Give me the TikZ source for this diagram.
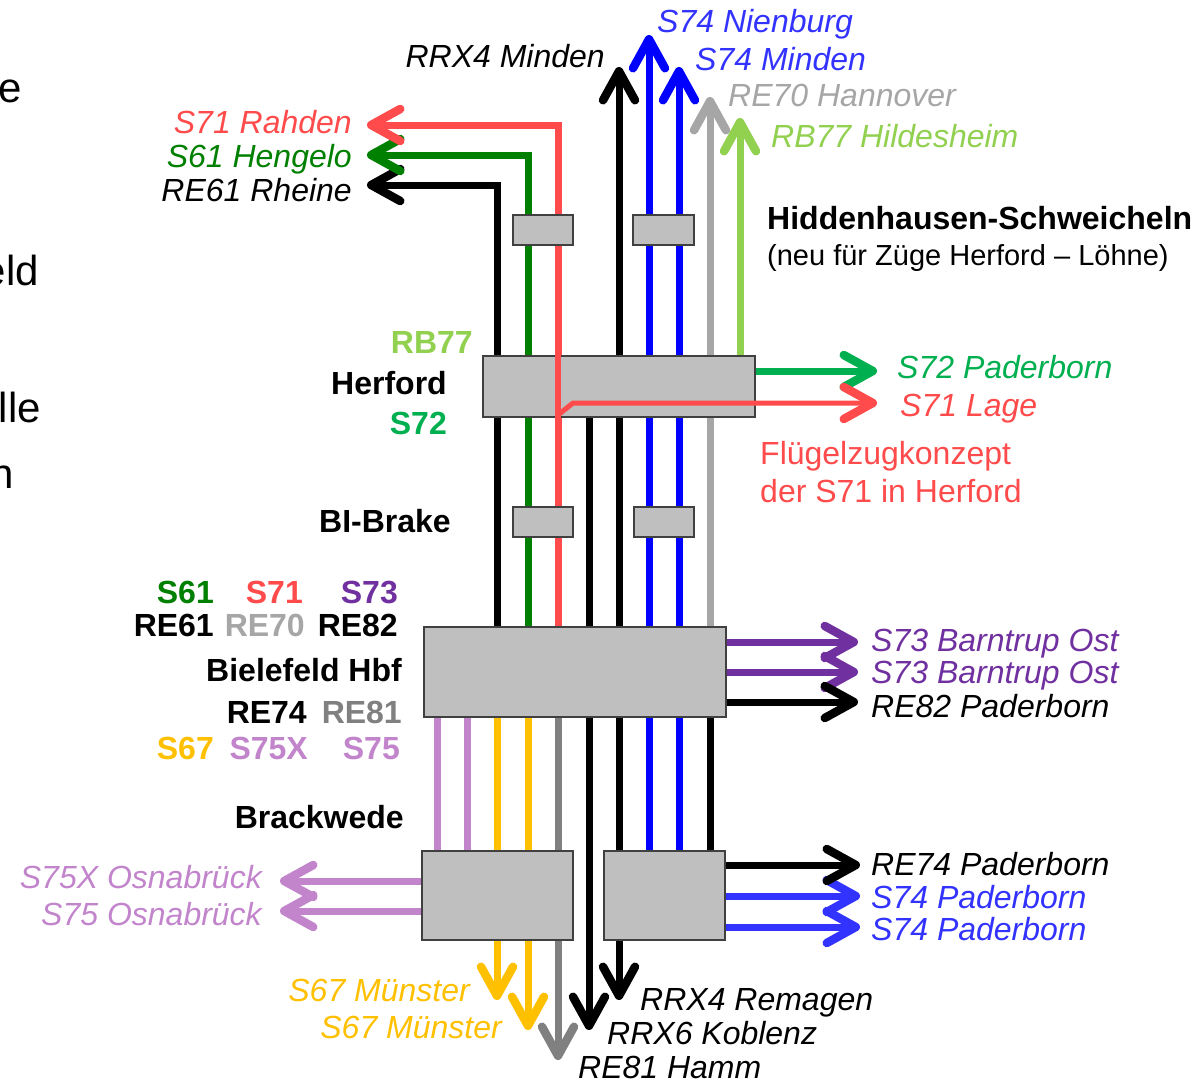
\documentclass[tikz,border=0pt]{standalone}
\usepackage{fontspec}
\setmainfont{Liberation Sans}
\usetikzlibrary{arrows.meta}
\definecolor{cRed}{HTML}{FF4B4B}
\definecolor{cDGreen}{HTML}{008000}
\definecolor{cGreen}{HTML}{00B050}
\definecolor{cBlue}{HTML}{0000FF}
\definecolor{cLBlue}{HTML}{3333FF}
\definecolor{cGrey}{HTML}{A6A6A6}
\definecolor{cDGrey}{HTML}{808080}
\definecolor{cLime}{HTML}{92D050}
\definecolor{cPurple}{HTML}{7030A0}
\definecolor{cLilac}{HTML}{C285CC}
\definecolor{cYellow}{HTML}{FFC000}
\definecolor{cBoxFill}{HTML}{BFBFBF}
\definecolor{cBoxEdge}{HTML}{404040}
\begin{document}
\begin{tikzpicture}[x=1pt,y=-1pt,
  ln/.style={line width=7pt, line join=miter},
  arr/.style={-{Straight Barb[length=29pt,width=32pt,line width=8.5pt,round]}},
  darr/.style={{Straight Barb[length=29pt,width=32pt,line width=8.5pt,round]}-{Straight Barb[length=29pt,width=32pt,line width=8.5pt,round]}},
  rarr/.style={{Straight Barb[length=29pt,width=32pt,line width=8.5pt,round]}-},
  box/.style={draw=cBoxEdge, fill=cBoxFill, line width=1.2pt, inner sep=0pt},
  it/.style={font=\fontsize{32}{38}\selectfont\itshape, inner sep=0pt},
  bf/.style={font=\fontsize{32}{38}\selectfont\bfseries, inner sep=0pt},
  rg/.style={font=\fontsize{32}{38}\selectfont, inner sep=0pt},
  frag/.style={font=\fontsize{42}{48}\selectfont, inner sep=0pt, anchor=base east}
]
\clip (0,0) rectangle (1199,1082);
\fill[white] (0,0) rectangle (1199,1082);

% ---- left fragments of cut-off slide text
\node[frag] (f1) at (22,102) {e};
\node[frag] (f2) at (39,285) {eld};
\node[frag] (f3) at (41,422) {lle};
\node[frag] (f4) at (14,488) {n};

% ---- coordinates
\coordinate (tRahden) at (367,125);
\coordinate (tHengelo) at (367,155);
\coordinate (tRheine) at (367,185);
\coordinate (tMindenR) at (619,67);
\coordinate (tNienburg) at (649,35);
\coordinate (tMindenS) at (679,67);
\coordinate (tHannover) at (710,97);
\coordinate (tHildesheim) at (740,118);
\coordinate (tS72) at (877,371);
\coordinate (tLage) at (877,403);
\coordinate (tS73a) at (858,642);
\coordinate (tS73b) at (858,672);
\coordinate (tRE82) at (858,702);
\coordinate (tRE74) at (860,865);
\coordinate (tS74a) at (860,896);
\coordinate (tS74b) at (860,927);
\coordinate (tS75X) at (280,881);
\coordinate (tS75) at (280,911);
\coordinate (tS67a) at (497,1000);
\coordinate (tS67b) at (528,1030);
\coordinate (tHamm) at (558,1060);
\coordinate (tKoblenz) at (589,1030);
\coordinate (tRemagen) at (619,1000);
\coordinate (redX) at (558,0);

% ---- lines (drawn below the boxes)
\draw[ln,arr,black] (497,640) -- (497,185) -- (tRheine);
\draw[ln,arr,cDGreen] (528,640) -- (528,155) -- (tHengelo);
\draw[ln,arr,cRed] (558,640) -- (558,125) -- (tRahden);
\draw[ln,darr,black] (tMindenR) -- (tRemagen);
\draw[ln,arr,black] (589,400) -- (tKoblenz);
\draw[ln,rarr,cBlue] (tNienburg) -- (649,880);
\draw[ln,rarr,cBlue] (tMindenS) -- (679,880);
\draw[ln,arr,cLBlue] (700,896) -- (tS74a);
\draw[ln,arr,cLBlue] (700,927) -- (tS74b);
\draw[ln,rarr,cGrey] (tHannover) -- (710,640);
\draw[ln,rarr,cLime] (tHildesheim) -- (740,370);
\draw[ln,arr,cGreen] (740,371) -- (tS72);
\draw[ln,arr,cPurple] (700,642) -- (tS73a);
\draw[ln,arr,cPurple] (700,672) -- (tS73b);
\draw[ln,arr,black] (700,702) -- (tRE82);
\draw[ln,arr,black] (710,700) -- (710,865) -- (tRE74);
\draw[ln,arr,cLilac] (437,700) -- (437,881) -- (tS75X);
\draw[ln,arr,cLilac] (467,700) -- (467,911) -- (tS75);
\draw[ln,arr,cYellow] (497,700) -- (tS67a);
\draw[ln,arr,cYellow] (528,700) -- (tS67b);
\draw[ln,arr,cDGrey] (558,700) -- (tHamm);

% ---- boxes
\node[box, minimum width=60pt, minimum height=30pt] (topA) at (543,230) {};
\node[box, minimum width=61pt, minimum height=30pt] (topB) at (663.5,230) {};
\node[box, minimum width=272pt, minimum height=61pt] (herford) at (619,386.5) {};
\node[box, minimum width=60pt, minimum height=30pt] (brakeA) at (543,522) {};
\node[box, minimum width=60pt, minimum height=30pt] (brakeB) at (664,522) {};
\node[box, minimum width=302pt, minimum height=90pt] (bhf) at (575,672) {};
\node[box, minimum width=151pt, minimum height=89pt] (brackL) at (497.5,895.5) {};
\node[box, minimum width=121pt, minimum height=89pt] (brackR) at (664.5,895.5) {};

% ---- S71 wing train inside Herford
\draw[line width=6pt, cRed] (herford.north -| redX) -- (herford.south -| redX);
\draw[ln,arr,cRed, line width=5pt] (558,415) -- (573,403) -- (tLage);

% ---- labels: top
\node[it, anchor=base east] (lRRX4M) at (605,67) {RRX4 Minden};
\node[it, anchor=base west, text=cLBlue] (lNien) at (657,32) {S74 Nienburg};
\node[it, anchor=base west, text=cLBlue] (lMind) at (695,70) {S74 Minden};
\node[it, anchor=base west, text=cGrey] (lHann) at (728,106) {RE70 Hannover};
\node[it, anchor=base west, text=cLime] (lHild) at (771,147) {RB77 Hildesheim};
\node[it, anchor=base east, text=cRed] (lRahd) at (352,133) {S71 Rahden};
\node[it, anchor=base east, text=cDGreen] (lHeng) at (352,167) {S61 Hengelo};
\node[it, anchor=base east] (lRhei) at (352,201) {RE61 Rheine};
\node[bf, anchor=base west] (lHidd) at (767,229) {Hiddenhausen-Schweicheln};
\node[font=\fontsize{29}{34}\selectfont, inner sep=0pt, anchor=base west] (lNeu) at (767,265) {(neu für Züge Herford – Löhne)};

% ---- Herford
\node[bf, anchor=base east, text=cLime] (lRB77) at (473,353) {RB77};
\node[bf, anchor=base east] (lHerf) at (447,394) {Herford};
\node[bf, anchor=base east, text=cGreen] (lS72) at (447,434) {S72};
\node[it, anchor=base west, text=cGreen] (lS72P) at (897,378) {S72 Paderborn};
\node[it, anchor=base west, text=cRed] (lLage) at (900,416) {S71 Lage};
\node[rg, anchor=base west, text=cRed] (lFl1) at (760,464) {Flügelzugkonzept};
\node[rg, anchor=base west, text=cRed] (lFl2) at (760,502) {der S71 in Herford};
\node[bf, anchor=base east] (lBrake) at (451,532) {BI-Brake};

% ---- Bielefeld Hbf
\node[bf, anchor=base east, text=cDGreen] (bS61) at (214,603) {S61};
\node[bf, anchor=base east, text=cRed] (bS71) at (303,603) {S71};
\node[bf, anchor=base east, text=cPurple] (bS73) at (398,603) {S73};
\node[bf, anchor=base east] (bRE61) at (214,636) {RE61};
\node[bf, anchor=base east, text=cGrey] (bRE70) at (305,636) {RE70};
\node[bf, anchor=base east] (bRE82) at (398,636) {RE82};
\node[bf, anchor=base east] (lBhf) at (402,681) {Bielefeld Hbf};
\node[bf, anchor=base east] (bRE74) at (307,723) {RE74};
\node[bf, anchor=base east, text=cDGrey] (bRE81) at (402,723) {RE81};
\node[bf, anchor=base east, text=cYellow] (bS67) at (214,759) {S67};
\node[bf, anchor=base east, text=cLilac] (bS75X) at (308,759) {S75X};
\node[bf, anchor=base east, text=cLilac] (bS75) at (400,759) {S75};
\node[it, anchor=base west, text=cPurple] (lS73a) at (871,651) {S73 Barntrup Ost};
\node[it, anchor=base west, text=cPurple] (lS73b) at (871,683) {S73 Barntrup Ost};
\node[it, anchor=base west] (lRE82) at (871,717) {RE82 Paderborn};

% ---- Brackwede
\node[bf, anchor=base east] (lBrack) at (404,828) {Brackwede};
\node[it, anchor=base west] (lRE74) at (871,875) {RE74 Paderborn};
\node[it, anchor=base west, text=cLBlue] (lS74a) at (871,908) {S74 Paderborn};
\node[it, anchor=base west, text=cLBlue] (lS74b) at (871,940) {S74 Paderborn};
\node[it, anchor=base east, text=cLilac] (lS75X) at (262,888) {S75X Osnabrück};
\node[it, anchor=base east, text=cLilac] (lS75) at (262,925) {S75 Osnabrück};
\node[it, anchor=base east, text=cYellow] (lS67a) at (470,1001) {S67 Münster};
\node[it, anchor=base east, text=cYellow] (lS67b) at (502,1038) {S67 Münster};
\node[it, anchor=base west] (lRem) at (640,1010) {RRX4 Remagen};
\node[it, anchor=base west] (lKob) at (607,1044) {RRX6 Koblenz};
\node[it, anchor=base west] (lHamm) at (578,1078) {RE81 Hamm};
\end{tikzpicture}
\end{document}
